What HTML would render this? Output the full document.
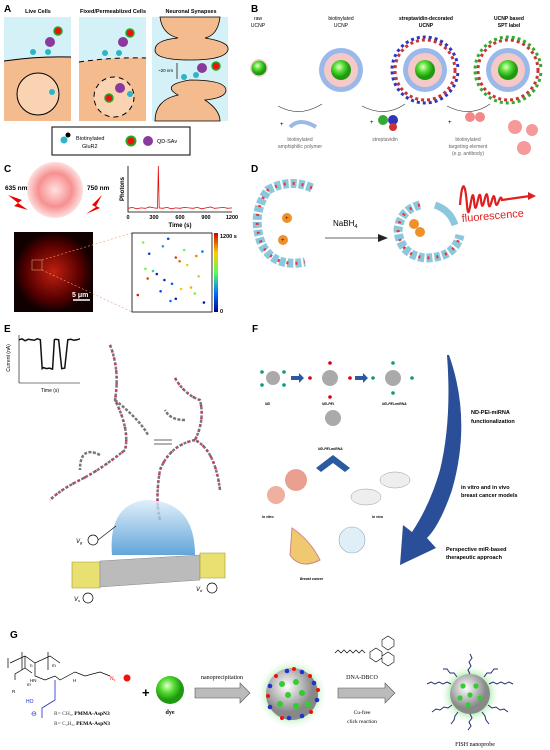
<!DOCTYPE html>
<html><head><meta charset="utf-8"><style>
body{margin:0;background:#fff}
svg{display:block;font-family:"Liberation Sans",sans-serif}
.lbl{font-weight:bold;font-size:10px}
</style></head><body>
<svg width="550" height="750" viewBox="0 0 550 750">
<defs>
<radialGradient id="gs" cx="40%" cy="35%"><stop offset="0" stop-color="#e8ffd0"/><stop offset="0.5" stop-color="#55dd33"/><stop offset="1" stop-color="#1f9a10"/></radialGradient>
<radialGradient id="rg" ><stop offset="0" stop-color="#ffe0e0"/><stop offset="0.6" stop-color="#f79090"/><stop offset="1" stop-color="#fde0e0"/></radialGradient>
<radialGradient id="gray" cx="40%" cy="35%"><stop offset="0" stop-color="#fff"/><stop offset="1" stop-color="#888"/></radialGradient>
<radialGradient id="glow"><stop offset="0.6" stop-color="#6d6"/><stop offset="1" stop-color="#fff" stop-opacity="0"/></radialGradient>
<linearGradient id="cb" x1="0" y1="1" x2="0" y2="0"><stop offset="0" stop-color="#00008f"/><stop offset="0.25" stop-color="#07f"/><stop offset="0.5" stop-color="#5f5"/><stop offset="0.75" stop-color="#fc0"/><stop offset="1" stop-color="#c00"/></linearGradient>
<linearGradient id="cone" x1="0" y1="1" x2="0" y2="0"><stop offset="0" stop-color="#3d8fd0"/><stop offset="1" stop-color="#d8ebf8"/></linearGradient>
<radialGradient id="micro"><stop offset="0" stop-color="#c02010"/><stop offset="0.7" stop-color="#500"/><stop offset="1" stop-color="#100"/></radialGradient>
</defs>

<!-- Panel A -->
<g>
<text x="4" y="12" class="lbl">A</text>
<text x="38" y="13" font-size="5.5" font-weight="bold" text-anchor="middle">Live Cells</text>
<text x="113" y="13" font-size="5.5" font-weight="bold" text-anchor="middle">Fixed/Permeablized Cells</text>
<text x="191" y="13" font-size="5.5" font-weight="bold" text-anchor="middle">Neuronal Synapses</text>
<rect x="4" y="17" width="67" height="104" fill="#f4bb8e"/>
<path d="M4 17H71V57Q38 56 4 61Z" fill="#d3f1f6"/>
<path d="M4 61Q38 56 71 57" stroke="#000" stroke-width="1" fill="none"/>
<circle cx="38" cy="94" r="21" fill="#f9d3b2" stroke="#000" stroke-width="1"/>
<rect x="79" y="17" width="67" height="104" fill="#f4bb8e"/>
<path d="M79 17H146V58Q113 57 79 62Z" fill="#d3f1f6"/>
<path d="M79 62Q113 57 146 58" stroke="#000" stroke-dasharray="5 4" fill="none"/>
<circle cx="114" cy="97" r="20" fill="#f9d3b2" stroke="#000" stroke-dasharray="5 4"/>
<rect x="152" y="17" width="76" height="104" fill="#d3f1f6"/>
<path d="M160 17H220Q218 35 205 38Q230 42 228 50Q225 60 190 60Q155 60 155 50Q155 40 178 38Q162 34 160 17Z" fill="#f4bb8e" stroke="#000" stroke-width="0.8"/>
<path d="M155 121Q155 100 178 95Q160 85 190 80Q225 80 226 90Q226 98 205 100Q220 110 220 121Z" fill="#f4bb8e" stroke="#000" stroke-width="0.8"/>
<text x="158" y="72" font-size="4.5">~20 nm</text>
<line x1="177" y1="63" x2="177" y2="79" stroke="#000" stroke-width="0.7"/>
<g fill="#2bb5c8"><circle cx="33" cy="52" r="3"/><circle cx="48" cy="52" r="3"/><circle cx="105" cy="53" r="3"/><circle cx="119" cy="53" r="3"/><circle cx="184" cy="77" r="3"/><circle cx="196" cy="75" r="3"/><circle cx="52" cy="92" r="3"/><circle cx="130" cy="94" r="3"/></g>
<g fill="#8a3a9a"><circle cx="50" cy="42" r="5"/><circle cx="123" cy="42" r="5"/><circle cx="202" cy="68" r="5"/><circle cx="120" cy="88" r="5"/></g>
<g fill="#e11" stroke="#2a2" stroke-width="1.5"><circle cx="58" cy="31" r="4"/><circle cx="130" cy="33" r="4"/><circle cx="216" cy="66" r="4"/><circle cx="109" cy="98" r="4"/></g>
<rect x="52" y="127" width="138" height="28" fill="#fff" stroke="#000" stroke-width="1"/>
<circle cx="64" cy="140" r="3.5" fill="#2bb5c8"/><circle cx="68" cy="135" r="2.5" fill="#000"/>
<text x="76" y="140" font-size="5.5">Biotinylated</text><text x="82" y="148" font-size="5.5">GluR2</text>
<circle cx="131" cy="141" r="4.5" fill="#e11" stroke="#2a2" stroke-width="2"/>
<circle cx="148" cy="141" r="5" fill="#8a3a9a"/>
<text x="157" y="143" font-size="5.5">QD-SAv</text>
</g>

<!-- Panel B -->
<g>
<text x="251" y="12" class="lbl">B</text>
<text x="258" y="20" font-size="5" text-anchor="middle">raw</text><text x="258" y="27" font-size="5" text-anchor="middle">UCNP</text>
<circle cx="259" cy="68" r="9" fill="#f8c8c8" opacity="0.8"/><circle cx="259" cy="68" r="7.5" fill="url(#gs)"/>
<text x="341" y="20" font-size="5" text-anchor="middle">biotinylated</text><text x="341" y="27" font-size="5" text-anchor="middle">UCNP</text>
<text x="426" y="20" font-size="5" text-anchor="middle" font-weight="bold">streptavidin-decorated</text><text x="426" y="27" font-size="5" text-anchor="middle" font-weight="bold">UCNP</text>
<text x="509" y="20" font-size="5" text-anchor="middle" font-weight="bold">UCNP based</text><text x="509" y="27" font-size="5" text-anchor="middle" font-weight="bold">SPT label</text>
<g>
<circle cx="341" cy="70" r="22" fill="#9bb8ea"/><circle cx="341" cy="70" r="17" fill="#f6c9c9"/><circle cx="341" cy="70" r="10" fill="url(#gs)"/>
<circle cx="425" cy="70" r="22" fill="#9bb8ea"/><circle cx="425" cy="70" r="17" fill="#f6c9c9"/><circle cx="425" cy="70" r="10" fill="url(#gs)"/>
<circle cx="508" cy="70" r="22" fill="#9bb8ea"/><circle cx="508" cy="70" r="17" fill="#f6c9c9"/><circle cx="508" cy="70" r="10" fill="url(#gs)"/>
<g fill="none" stroke-width="3" stroke-dasharray="3 3">
<circle cx="425" cy="70" r="30" stroke="#c33"/><circle cx="425" cy="70" r="33" stroke="#33b" stroke-dashoffset="3"/>
<circle cx="508" cy="70" r="30" stroke="#c33"/><circle cx="508" cy="70" r="33" stroke="#3a3" stroke-dashoffset="3"/>
</g>
</g>
<path d="M278 106Q300 118 322 104M362 106Q385 118 405 104M447 106Q470 118 490 104" stroke="#333" fill="none" stroke-width="0.6"/>
<text x="280" y="126" font-size="6">+</text><path d="M290 127Q300 117 316 127" stroke="#9bb8ea" stroke-width="4" fill="none"/>
<text x="300" y="141" font-size="5" fill="#666" text-anchor="middle">biotinylated</text><text x="300" y="148" font-size="5" fill="#666" text-anchor="middle">amphiphilic polymer</text>
<text x="370" y="124" font-size="6">+</text><circle cx="383" cy="120" r="5" fill="#3a3"/><circle cx="393" cy="120" r="5" fill="#33b"/><circle cx="393" cy="127" r="4" fill="#c33"/>
<text x="385" y="141" font-size="5" fill="#666" text-anchor="middle">streptavidin</text>
<text x="448" y="124" font-size="6">+</text><circle cx="470" cy="117" r="5" fill="#e55" opacity="0.7"/><circle cx="480" cy="117" r="5" fill="#e55" opacity="0.7"/>
<text x="468" y="141" font-size="5" fill="#666" text-anchor="middle">biotinylated</text><text x="468" y="148" font-size="5" fill="#666" text-anchor="middle">targeting element</text><text x="468" y="155" font-size="5" fill="#666" text-anchor="middle">(e.g. antibody)</text>
<circle cx="515" cy="127" r="7" fill="#e55" opacity="0.6"/><circle cx="532" cy="130" r="6" fill="#e55" opacity="0.6"/><circle cx="524" cy="148" r="7" fill="#e55" opacity="0.6"/>
</g>

<!-- Panel C -->
<g>
<text x="4" y="172" class="lbl">C</text>
<circle cx="55" cy="190" r="28" fill="url(#rg)"/>
<text x="5" y="190" font-size="6.5" font-weight="bold">635 nm</text>
<text x="87" y="190" font-size="6.5" font-weight="bold">750 nm</text>
<path d="M8 195L22 200L18 203L28 210L14 206L18 203Z" fill="#e00"/>
<path d="M102 195L92 205L96 207L86 214L100 208L96 206Z" fill="#e00"/>
<g id="trace"></g>
<rect x="14" y="232" width="79" height="80" fill="url(#micro)"/>
<rect x="32" y="260" width="10" height="10" fill="none" stroke="#d96" stroke-width="0.6"/>
<line x1="42" y1="260" x2="132" y2="233" stroke="#f96" stroke-dasharray="2 2" stroke-width="0.6"/>
<line x1="42" y1="270" x2="132" y2="312" stroke="#f96" stroke-dasharray="2 2" stroke-width="0.6"/>
<line x1="73" y1="300" x2="90" y2="300" stroke="#fff" stroke-width="1.5"/>
<text x="72" y="297" font-size="7" font-weight="bold" fill="#fff">5 μm</text>
<rect x="132" y="233" width="80" height="79" fill="#fff" stroke="#000" stroke-width="0.8"/>
<g id="scatter"></g>
<rect x="214" y="233" width="4" height="79" fill="url(#cb)"/>
<text x="220" y="238" font-size="5.5" font-weight="bold">1200 s</text>
<text x="220" y="313" font-size="5.5" font-weight="bold">0</text>
</g>

<!-- Panel D -->
<g>
<text x="251" y="172" class="lbl">D</text>
<path d="M312 188Q290 178 268 190Q250 215 262 245Q275 268 305 262" stroke="#8cc8dd" stroke-width="9" fill="none" stroke-dasharray="6 2"/>
<path d="M312 188Q290 178 268 190Q250 215 262 245Q275 268 305 262" stroke="#e33" stroke-width="3" fill="none" stroke-dasharray="2 7"/>
<circle cx="287" cy="218" r="5" fill="#f0902a"/><circle cx="283" cy="240" r="5" fill="#f0902a"/>
<text x="285" y="220" font-size="6" fill="#222">+</text><text x="281" y="242" font-size="6" fill="#222">+</text>
<text x="333" y="226" font-size="8">NaBH<tspan font-size="5.5" dy="2">4</tspan></text>
<line x1="325" y1="238" x2="380" y2="238" stroke="#333" stroke-width="0.8"/><path d="M378 234L388 238L378 242Z" fill="#222"/>
<path d="M420 205Q400 210 398 230Q400 255 425 258Q455 258 460 235" stroke="#8cc8dd" stroke-width="9" fill="none" stroke-dasharray="6 2"/>
<path d="M420 205Q400 210 398 230Q400 255 425 258Q455 258 460 235" stroke="#e33" stroke-width="3" fill="none" stroke-dasharray="2 7"/>
<path d="M435 205Q450 210 455 225" stroke="#8cc8dd" stroke-width="7" fill="none"/>
<circle cx="414" cy="224" r="5" fill="#f0902a"/><circle cx="420" cy="232" r="5" fill="#f0902a"/>
<path d="M460 205C462 180 465 180 467 205C469 230 472 180 474 200C476 225 479 180 481 200C483 220 486 180 488 200C490 220 493 185 495 200C497 215 500 190 502 200L530 196" stroke="#e02020" stroke-width="2.2" fill="none"/>
<path d="M528 192L536 196L528 200Z" fill="#e02020"/>
<text x="462" y="222" font-size="11" fill="#e02020" transform="rotate(-5 462 222)">fluorescence</text>
</g>

<!-- Panel E -->
<g>
<text x="4" y="332" class="lbl">E</text>
<g id="current"></g>
<text x="10" y="358" font-size="5" transform="rotate(-90 10 358)" text-anchor="middle">Current (nA)</text>
<text x="50" y="392" font-size="5" text-anchor="middle">Time (s)</text>
<g stroke="#777" stroke-width="2.5" fill="none" stroke-dasharray="3 1.5">
<path d="M110 345Q120 370 115 400Q130 430 125 450Q100 470 80 480Q60 490 50 500"/>
<path d="M115 400Q140 420 148 435M100 455Q80 445 80 470"/>
<path d="M175 378Q185 395 200 400Q205 420 195 440Q215 450 220 490M195 440Q170 445 160 470Q155 500 160 520M185 420Q170 420 165 410"/>
</g>
<g stroke="#d03060" stroke-width="2.5" fill="none" stroke-dasharray="1.5 5">
<path d="M110 345Q120 370 115 400Q130 430 125 450Q100 470 80 480Q60 490 50 500"/>
<path d="M175 378Q185 395 200 400Q205 420 195 440Q215 450 220 490M195 440Q170 445 160 470Q155 500 160 520"/>
</g>
<path d="M154 440H172M154 444H172" stroke="#333" stroke-width="0.8"/>
<path d="M112 555Q108 505 145 500Q195 500 195 555Z" fill="url(#cone)" opacity="0.8"/>
<path d="M72 562H100V588H72Z" fill="#e8e070" stroke="#a0982a" stroke-width="0.6"/>
<path d="M100 561L200 555V580L100 587Z" fill="#bbb" stroke="#888" stroke-width="0.5"/>
<path d="M200 553H225V578H200Z" fill="#e8e070" stroke="#a0982a" stroke-width="0.6"/>
<circle cx="93" cy="540" r="5" fill="none" stroke="#000" stroke-width="0.7"/><line x1="98" y1="540" x2="116" y2="526" stroke="#000" stroke-width="0.6"/>
<text x="76" y="543" font-size="6" font-style="italic">V<tspan font-size="4" dy="1">g</tspan></text>
<circle cx="88" cy="598" r="5" fill="none" stroke="#000" stroke-width="0.7"/>
<text x="74" y="601" font-size="6" font-style="italic">V<tspan font-size="4" dy="1">s</tspan></text>
<circle cx="212" cy="588" r="5" fill="none" stroke="#000" stroke-width="0.7"/>
<text x="196" y="591" font-size="6" font-style="italic">V<tspan font-size="4" dy="1">d</tspan></text>
</g>

<!-- Panel F -->
<g>
<text x="252" y="332" class="lbl">F</text>
<g fill="#aaa"><circle cx="273" cy="378" r="7"/><circle cx="330" cy="378" r="8"/><circle cx="393" cy="378" r="8"/><circle cx="333" cy="418" r="8"/></g>
<g fill="#0a9a80"><circle cx="262" cy="372" r="1.8"/><circle cx="284" cy="372" r="1.8"/><circle cx="262" cy="385" r="1.8"/><circle cx="284" cy="385" r="1.8"/><circle cx="373" cy="378" r="1.8"/><circle cx="412" cy="378" r="1.8"/><circle cx="393" cy="363" r="1.8"/><circle cx="393" cy="393" r="1.8"/></g>
<g fill="#d01"><circle cx="310" cy="378" r="1.8"/><circle cx="350" cy="378" r="1.8"/><circle cx="330" cy="363" r="1.8"/><circle cx="330" cy="397" r="1.8"/></g>
<path d="M291 376h8v-3l5 5-5 5v-3h-8z" fill="#2a5aa0"/><path d="M355 376h8v-3l5 5-5 5v-3h-8z" fill="#2a5aa0"/>
<text x="265" y="405" font-size="3.5" font-style="italic" font-weight="bold">ND</text>
<text x="322" y="405" font-size="3.5" font-style="italic" font-weight="bold">ND-PEI</text>
<text x="382" y="405" font-size="3.5" font-style="italic" font-weight="bold">ND-PEI-miRNA</text>
<text x="318" y="450" font-size="3.5" font-style="italic" font-weight="bold">ND-PEI-miRNA</text>
<path d="M316 468L333 455L350 468L345 472L333 463L321 472Z" fill="#2a5aa0"/>
<circle cx="296" cy="480" r="11" fill="#eaa090"/><circle cx="276" cy="495" r="9" fill="#f0b0a0"/>
<text x="262" y="518" font-size="3.5" font-style="italic" font-weight="bold">In vitro</text>
<ellipse cx="395" cy="480" rx="15" ry="8" fill="#eee" stroke="#999" stroke-width="0.5"/>
<ellipse cx="366" cy="497" rx="15" ry="8" fill="#eee" stroke="#999" stroke-width="0.5"/>
<text x="372" y="518" font-size="3.5" font-style="italic" font-weight="bold">In vivo</text>
<path d="M292 528Q310 540 320 560Q300 570 290 555Z" fill="#f0c870" stroke="#c88" stroke-width="1"/>
<circle cx="352" cy="540" r="13" fill="#e0eef8" stroke="#8ab" stroke-width="0.6"/>
<text x="300" y="580" font-size="3.5" font-style="italic" font-weight="bold">Breast cancer</text>
<path d="M449 355Q472 420 452 490Q440 525 427 538L436 548L400 565L403 525L412 532Q430 505 440 470Q452 420 447 355Z" fill="#2a4f98"/>
<text x="471" y="414" font-size="5.5" font-weight="bold">ND-PEI-miRNA</text><text x="471" y="423" font-size="5.5" font-weight="bold">functionalization</text>
<text x="461" y="489" font-size="5.5" font-weight="bold">in vitro and in vivo</text><text x="461" y="497" font-size="5.5" font-weight="bold">breast cancer models</text>
<text x="446" y="551" font-size="5.5" font-weight="bold">Perspective miR-based</text><text x="446" y="559" font-size="5.5" font-weight="bold">therapeutic approach</text>
</g>

<!-- Panel G -->
<g>
<text x="10" y="638" class="lbl">G</text>
<g stroke="#000" stroke-width="0.7" fill="none">
<path d="M8 658V668M10 663L25 656L35 663L50 656L60 663M22 652V670M48 652V670"/>
<path d="M25 656V668L32 673M25 668L15 674V680M35 663V676L45 680L55 676L60 680L75 672L85 676L100 672L110 676"/>
</g>
<path d="M55 680V700L42 708V718" stroke="#1a2ad0" stroke-width="0.8" fill="none"/>
<text x="27" y="686" font-size="4.5" font-style="italic">m</text>
<text x="30" y="667" font-size="4.5">n</text><text x="52" y="667" font-size="4.5">m</text>
<text x="30" y="682" font-size="4.5">HN</text><text x="73" y="682" font-size="4.5">H</text>
<text x="12" y="693" font-size="4.5">R</text>
<text x="110" y="680" font-size="5" fill="#e11">N<tspan font-size="3" dy="1">3</tspan></text>
<circle cx="127" cy="678" r="3.5" fill="#e11"/>
<text x="26" y="703" font-size="5" fill="#1a2ad0">HO</text><text x="31" y="716" font-size="7" fill="#1a2ad0">⊖</text>
<text x="54" y="715" font-family="Liberation Serif" font-size="5.5" fill="#444">R= CH<tspan font-size="3.5" dy="1">3</tspan><tspan dy="-1">, </tspan><tspan font-weight="bold" fill="#000">PMMA-AspN3</tspan></text>
<text x="54" y="725" font-family="Liberation Serif" font-size="5.5" fill="#444">R= C<tspan font-size="3.5" dy="1">2</tspan><tspan dy="-1">H</tspan><tspan font-size="3.5" dy="1">5</tspan><tspan dy="-1">, </tspan><tspan font-weight="bold" fill="#000">PEMA-AspN3</tspan></text>
<text x="142" y="697" font-size="13" font-weight="bold">+</text>
<circle cx="170" cy="690" r="14" fill="url(#gs)"/>
<text x="170" y="714" font-family="Liberation Serif" font-size="6" font-weight="bold" text-anchor="middle">dye</text>
<text x="222" y="679" font-family="Liberation Serif" font-size="6" text-anchor="middle">nanoprecipitation</text>
<path d="M195 688H240V683L250 693L240 703V698H195Z" fill="#bbb" stroke="#555" stroke-width="0.6"/>
<circle cx="292" cy="694" r="36" fill="url(#glow)" opacity="0.6"/>
<circle cx="292" cy="694" r="26" fill="url(#gray)"/>
<g fill="#3c3"><circle cx="282" cy="684" r="3"/><circle cx="296" cy="682" r="3"/><circle cx="288" cy="695" r="3"/><circle cx="302" cy="693" r="3"/><circle cx="280" cy="704" r="3"/><circle cx="296" cy="706" r="3"/><circle cx="308" cy="704" r="3"/></g>
<g fill="#e11"><circle cx="276" cy="676" r="2"/><circle cx="310" cy="676" r="2"/><circle cx="318" cy="690" r="2"/><circle cx="268" cy="696" r="2"/><circle cx="311" cy="712" r="2"/><circle cx="282" cy="718" r="2"/><circle cx="294" cy="669" r="2"/></g>
<g fill="#23c"><circle cx="287" cy="671" r="2.3"/><circle cx="302" cy="672" r="2.3"/><circle cx="314" cy="683" r="2.3"/><circle cx="270" cy="686" r="2.3"/><circle cx="270" cy="707" r="2.3"/><circle cx="289" cy="718" r="2.3"/><circle cx="302" cy="716" r="2.3"/><circle cx="317" cy="700" r="2.3"/></g>
<path d="M335 653l3 -3l3 3l3 -3l3 3l3 -3l3 3l3 -3l3 3l3 -3l3 3" stroke="#000" stroke-width="0.7" fill="none"/>
<path d="M370 652l6 -4l6 4v6l-6 4l-6-4z M382 640l6-4l6 4v6l-6 4l-6-4z M382 656l6-4l6 4v6l-6 4l-6-4z" stroke="#000" stroke-width="0.6" fill="none"/>
<text x="362" y="679" font-family="Liberation Serif" font-size="6" text-anchor="middle">DNA-DBCO</text>
<path d="M338 688H385V683L395 693L385 703V698H338Z" fill="#bbb" stroke="#555" stroke-width="0.6"/>
<text x="362" y="714" font-family="Liberation Serif" font-size="5.5" text-anchor="middle">Cu-free</text>
<text x="362" y="723" font-family="Liberation Serif" font-size="5.5" text-anchor="middle">click reaction</text>
<circle cx="470" cy="694" r="30" fill="url(#glow)" opacity="0.6"/>
<circle cx="470" cy="694" r="20" fill="url(#gray)"/>
<g fill="#3c3"><circle cx="463" cy="686" r="2.6"/><circle cx="476" cy="686" r="2.6"/><circle cx="470" cy="695" r="2.6"/><circle cx="460" cy="698" r="2.6"/><circle cx="480" cy="698" r="2.6"/><circle cx="468" cy="705" r="2.6"/></g>
<g stroke="#223070" stroke-width="1" fill="none">
<path d="M470 674l-2-4l3-4l-2-4l3-4l-2-4"/><path d="M470 714l2 4l-3 4l2 4l-3 4"/>
<path d="M451 684l-4-2l-4 2l-4-2l-4 2l-4-2l-4 2"/><path d="M489 684l4-2l4 2l4-2l4 2l4-2l4 2"/>
<path d="M452 705l-4 3l-4-1l-4 3l-4-1l-4 3"/><path d="M488 705l4 3l4-1l4 3l4-1l4 3"/>
<path d="M457 677l-3-4l-4 0l-3-4l-4 0"/><path d="M484 677l3-4l4 0l3-4l4 0"/>
<path d="M458 712l-3 4l-1 4l-3 4"/><path d="M482 712l3 4l1 4l3 4"/>
</g>
<text x="475" y="746" font-family="Liberation Serif" font-size="6" text-anchor="middle">FISH nanoprobe</text>
</g>
</svg>
<script>
// Panel C photon trace data
const timeSec = [0,50,100,150,200,250,300,340,350,360,400,450,500,550,600,650,700,750,800,850,900,950,1000,1050,1100,1150,1200];
const photons = [8,10,7,9,8,11,9,8,100,9,8,10,7,9,8,10,9,8,10,7,9,11,8,9,10,8,9];
const timeTicks = [0,300,600,900,1200];
// Trajectory points: x,y (0-1 fraction) and time (s)
const trajX = [0.12,0.45,0.2,0.55,0.6,0.82,0.9,0.15,0.3,0.7,0.4,0.5,0.85,0.05,0.35,0.62,0.75,0.25,0.55,0.92,0.18,0.48,0.8,0.38,0.66];
const trajY = [0.1,0.05,0.25,0.3,0.35,0.28,0.22,0.45,0.52,0.4,0.6,0.65,0.55,0.8,0.75,0.72,0.7,0.48,0.85,0.9,0.58,0.88,0.78,0.15,0.2];
const trajT = [700,200,150,1100,1050,1000,300,650,100,850,150,250,700,1150,200,900,950,500,100,50,1100,300,650,400,600];
// Panel E current trace
const curTime = [0,5,10,15,20,25,30,35,38,40,45,50,55,58,60,65,70,75,80,85,90,95,100];
const curVal = [9,9.2,8.8,9.1,9,8.9,9.2,9,3,3.2,3,3.1,2.9,9,9.1,9,3,3.1,9,9.1,8.9,9,9.2];
const NS='http://www.w3.org/2000/svg';
function mk(t,a,p){const e=document.createElementNS(NS,t);for(const k in a)e.setAttribute(k,a[k]);p.appendChild(e);return e;}
// trace chart
(function(){
 const g=document.getElementById('trace');
 const x0=128,x1=232,y0=212,y1=166;
 const sx=v=>x0+(v/1200)*(x1-x0), sy=v=>y0-(v/100)*(y0-y1);
 const ax=mk('path',{d:`M${x0} ${y1}V${y0}H${x1}`,stroke:'#000','stroke-width':0.8,fill:'none'},g);
 
 
 const line=mk('polyline',{points:timeSec.map((t,i)=>sx(t)+','+sy(photons[i])).join(' '),stroke:'#e01010','stroke-width':0.8,fill:'none'},g);
 
 
 timeTicks.forEach(t=>{
  const tx=mk('text',{x:sx(t),y:y0+7,'font-size':5.5,'font-weight':'bold','text-anchor':'middle'},g);
  tx.textContent=t;
  
  
 });
 const xt=mk('text',{x:(x0+x1)/2,y:y0+15,'font-size':6,'font-weight':'bold','text-anchor':'middle'},g);xt.textContent='Time (s)';
 
 
 const yt=mk('text',{x:124,y:189,'font-size':6,'font-weight':'bold','text-anchor':'middle',transform:'rotate(-90 124 189)'},g);yt.textContent='Photons';
 
 
})();
(function(){
 const g=document.getElementById('scatter');
 const col=t=>{const f=t/1200;const stops=[[0,0,143],[0,119,255],[85,255,85],[255,204,0],[204,0,0]];const p=f*4,i=Math.min(3,Math.floor(p)),r=p-i;const a=stops[i],b=stops[i+1];return `rgb(${a.map((v,k)=>Math.round(v+(b[k]-v)*r)).join(',')})`;};
 trajX.forEach((xv,i)=>{
  const c=mk('circle',{cx:134+xv*76,cy:235+trajY[i]*75,r:1.3,fill:col(trajT[i])},g);
  
  
 });
})();
(function(){
 const g=document.getElementById('current');
 const x0=19,x1=80,y0=383,y1=335;
 const sx=v=>x0+v/100*(x1-x0), sy=v=>y0-v/10*(y0-y1);
 const ax=mk('path',{d:`M${x0} ${y1}V${y0}H${x1}`,stroke:'#000','stroke-width':0.6,fill:'none'},g);
 
 
 const l=mk('polyline',{points:curTime.map((t,i)=>sx(t)+','+sy(curVal[i])).join(' '),stroke:'#111','stroke-width':1.5,fill:'none'},g);
 
 
})();
</script>
</body></html>
